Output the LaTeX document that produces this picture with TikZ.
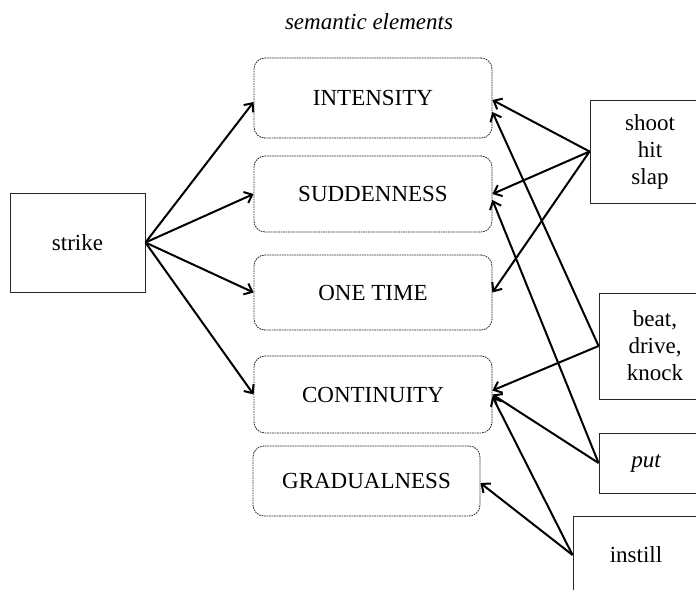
\documentclass[tikz,border=0pt]{standalone}
\usepackage{fontspec}
\setmainfont{Liberation Serif}
\usetikzlibrary{arrows.meta}
\tikzset{
  sem/.style={draw=black!85, line width=0.8pt, dash pattern=on 1.6pt off 0.9pt,
    rounded corners=11pt, inner sep=0pt, align=center},
  word/.style={draw=black!85, line width=0.9pt, inner sep=0pt, align=center},
  link/.style={line width=2pt, -{Straight Barb[length=7pt,width=12pt,line width=2pt]}},
  big/.style={font=\fontsize{23}{27}\selectfont}
}
\begin{document}
\begin{tikzpicture}[x=1pt,y=-1pt,big]
\useasboundingbox (0,0) rectangle (696,589);
\clip (0,0) rectangle (696,589);
\node (title) at (369,22) {\itshape semantic elements};
% semantic element boxes
\node[sem, minimum width=238pt, minimum height=80pt] (int) at (373,98) {INTENSITY};
\node[sem, minimum width=238pt, minimum height=76pt] (sud) at (373,194) {SUDDENNESS};
\node[sem, minimum width=238pt, minimum height=75pt] (one) at (373,292.5) {ONE TIME};
\node[sem, minimum width=238pt, minimum height=77pt] (con) at (373,394.5) {CONTINUITY};
\node[sem, minimum width=227pt, minimum height=70pt] (gra) at (366.5,481) {GRADUALNESS};
% verb boxes
\node[word, minimum width=135pt, minimum height=99pt] (strike) at (77.5,242.5) {strike};
\node[word, minimum width=120pt, minimum height=103pt] (shoot) at (650,151.5) {shoot\\hit\\slap};
\node[word, minimum width=112pt, minimum height=106pt] (beat) at (655,346) {beat,\\drive,\\knock};
\node[word, minimum width=112pt, minimum height=60pt] (put) at (655,463) {\hspace*{-18pt}\itshape put};
\node[word, minimum width=130pt, minimum height=78pt] (instill) at (638,555) {\hspace*{-4pt}instill};
% connectors from strike
\draw[link] (strike.east) -- ([yshift=-4pt]int.west);
\draw[link] (strike.east) -- (sud.west);
\draw[link] (strike.east) -- (one.west);
\draw[link] (strike.east) -- (con.west);
% from shoot
\draw[link] (shoot.west) -- ([yshift=-2pt]int.east);
\draw[link] (shoot.west) -- (sud.east);
\draw[link] (shoot.west) -- (one.east);
% from beat
\draw[link] (beat.west) -- ([yshift=-14pt]int.east);
\draw[link] (beat.west) -- ([yshift=4pt]con.east);
% from put
\draw[link] (put.west) -- ([yshift=-6pt]sud.east);
\draw[link] (put.west) -- (con.east);
% from instill
\draw[link] (instill.west) -- ([yshift=-2pt]con.east);
\draw[link] (instill.west) -- ([yshift=-2pt]gra.east);
\end{tikzpicture}
\end{document}
